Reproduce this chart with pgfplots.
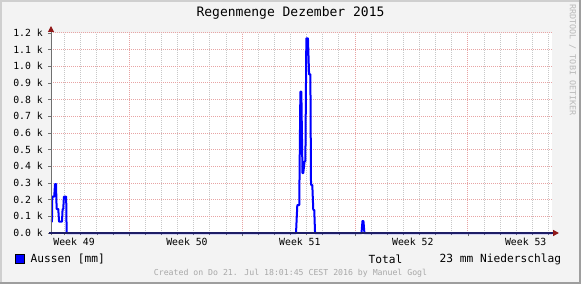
\documentclass[border=0pt]{standalone}
\usepackage{pgfplots}
\pgfplotsset{compat=1.18}
\usepackage{fontspec}
\usetikzlibrary{arrows.meta}
\newfontfamily\rrd{DejaVu Sans Mono}
\definecolor{bgcol}{HTML}{F3F3F3}
\definecolor{shadeA}{HTML}{CFCFCF}
\definecolor{shadeB}{HTML}{9E9E9E}
\definecolor{mgrid}{HTML}{E8A4A4}
\definecolor{ngrid}{HTML}{C8C8C8}
\definecolor{arrowred}{HTML}{901818}
\definecolor{axisgray}{HTML}{707070}
\definecolor{axisnavy}{HTML}{1E1E66}
\definecolor{wm}{HTML}{A8A8A8}
\begin{document}
\begin{tikzpicture}[x=1bp,y=1bp]
\useasboundingbox (0,0) rectangle (581,284);
\fill[bgcol] (0,0) rectangle (581,284);
\fill[shadeA] (0,284) rectangle (581,282);
\fill[shadeA] (0,0) rectangle (2,284);
\fill[shadeB] (0,0) rectangle (581,2);
\fill[shadeB] (579,0) rectangle (581,284);
\begin{axis}[
  at={(51bp,51bp)}, anchor=south west,
  scale only axis, width=501bp, height=200bp,
  xmin=0, xmax=31.06, ymin=0, ymax=1.2,
  clip=false,
  axis background/.style={fill=white},
  axis x line*=bottom, axis y line*=left,
  axis line style={draw=none},
  xtick={4.85,11.85,18.85,25.85},
  xticklabels={},
  minor xtick={0.85,1.85,...,30.85},
  extra x ticks={1.43,8.43,15.43,22.43,29.43},
  extra x tick labels={Week 49,Week 50,Week 51,Week 52,Week 53},
  extra x tick style={grid=none, major tick length=0pt,
     xticklabel style={font=\rrd\fontsize{9.8bp}{11bp}\selectfont, anchor=north, inner sep=0pt, yshift=-5bp}},
  ytick={0,0.1,...,1.2},
  yticklabels={0.0 k,0.1 k,0.2 k,0.3 k,0.4 k,0.5 k,0.6 k,0.7 k,0.8 k,0.9 k,1.0 k,1.1 k,1.2 k},
  yticklabel style={font=\rrd\fontsize{9.8bp}{11bp}\selectfont, anchor=east, inner sep=0pt, xshift=-5bp},
  xmajorgrids, xminorgrids, ymajorgrids,
  major grid style={mgrid, line width=1bp, dash pattern=on 1bp off 1bp},
  minor grid style={ngrid, line width=1bp, dash pattern=on 1bp off 1bp},
  tick align=outside,
  major tick length=3bp, minor tick length=2bp,
  tick style={axisgray, line width=0.8bp},
]
\addplot[color=blue, line width=2bp, line join=round] coordinates {
(0,0.068)(0.06,0.068)(0.08,0.218)(0.2,0.218)(0.25,0.294)(0.31,0.294)(0.35,0.144)(0.45,0.144)(0.5,0.068)(0.68,0.068)(0.72,0.144)(0.76,0.144)(0.8,0.218)(0.94,0.218)(0.97,0)
(15.19,0)(15.27,0.168)(15.39,0.168)(15.46,0.848)(15.52,0.848)(15.59,0.36)(15.64,0.36)(15.72,0.43)(15.77,0.43)(15.83,1.168)(15.93,1.168)(16.0,0.952)(16.08,0.952)(16.12,0.288)(16.2,0.288)(16.26,0.138)(16.32,0.138)(16.37,0)
(19.25,0)(19.31,0.072)(19.37,0.072)(19.43,0)(31.06,0)
};
\draw[line width=1bp, axisgray, -{Triangle[length=6bp,width=6bp,color=arrowred]}] ([yshift=-2bp]axis cs:0,0) -- ([yshift=7bp]axis cs:0,1.2);
\draw[line width=1.4bp, axisnavy, -{Triangle[length=6bp,width=6bp,color=arrowred]}] ([xshift=-2bp]axis cs:0,0) -- ([xshift=7bp]axis cs:31.06,0);
\end{axis}
\node[font=\rrd\fontsize{13bp}{15bp}\selectfont, anchor=center] at (290.5,271) {Regenmenge Dezember 2015};
\fill[blue, draw=black, line width=0.8bp] (15.5,20.5) rectangle (24.5,29.5);
\node[font=\rrd\fontsize{11.2bp}{13bp}\selectfont, anchor=west, inner sep=0pt] at (30.5,25) {Aussen [mm]};
\node[font=\rrd\fontsize{11.2bp}{13bp}\selectfont, anchor=west, inner sep=0pt] at (368.5,25) {Total};
\node[font=\rrd\fontsize{11.2bp}{13bp}\selectfont, anchor=west, inner sep=0pt] at (439.5,25) {23 mm Niederschlag};
\node[font=\rrd\fontsize{8.2bp}{9bp}\selectfont, text=wm, anchor=center, inner sep=0pt] at (290.5,11) {Created on Do 21. Jul 18:01:45 CEST 2016 by Manuel Gogl};
\node[font=\rrd\fontsize{8.4bp}{9bp}\selectfont, text=wm!80, anchor=center, inner sep=0pt, rotate=-90] at (572.5,224) {RRDTOOL / TOBI OETIKER};
\end{tikzpicture}
\end{document}
